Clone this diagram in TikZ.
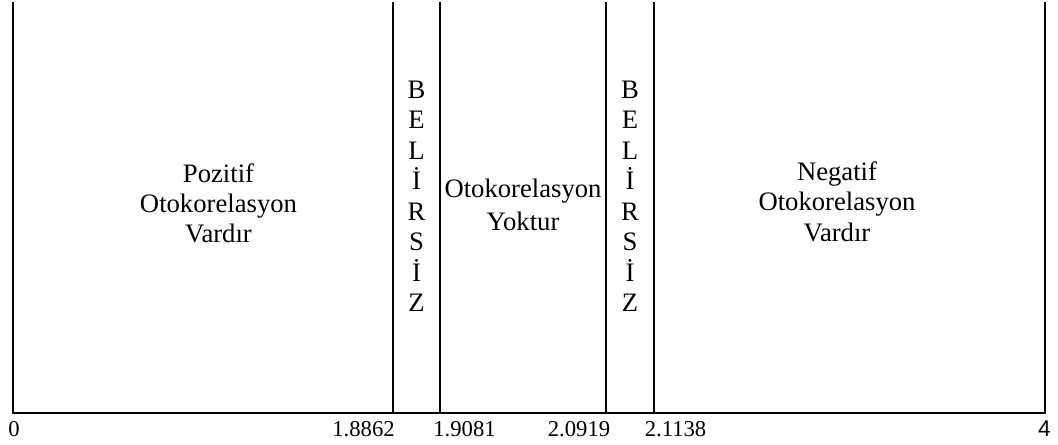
\documentclass[tikz,border=0pt]{standalone}
\usepackage{fontspec}
\setmainfont{Liberation Serif}
\newfontfamily\arialfont{Liberation Sans}
\begin{document}
\begin{tikzpicture}[x=0.75pt,y=-0.75pt,
  frame/.style={line width=1.4pt,line cap=rect},
  lbl/.style={anchor=base,inner sep=0pt,font=\fontsize{20}{22}\selectfont},
  num/.style={anchor=base,inner sep=0pt,font=\fontsize{17}{20}\selectfont}]
\useasboundingbox (0,0) rectangle (1058,445);
% frame corners
\coordinate (tl) at (12.7,3);
\coordinate (bl) at (12.7,412.7);
\coordinate (tr) at (1045,3);
\coordinate (br) at (1045,412.7);
\coordinate (a1) at (392.7,3); \coordinate (a2) at (392.7,412.7);
\coordinate (b1) at (440.2,3); \coordinate (b2) at (440.2,412.7);
\coordinate (c1) at (606,3);   \coordinate (c2) at (606,412.7);
\coordinate (d1) at (654.2,3); \coordinate (d2) at (654.2,412.7);
\draw[frame] (tl) -- (bl) -- (br) -- (tr);
\draw[frame] (a1) -- (a2);
\draw[frame] (b1) -- (b2);
\draw[frame] (c1) -- (c2);
\draw[frame] (d1) -- (d2);
% left region
\node[lbl] (p1) at (218.5,182.3) {Pozitif};
\node[lbl] (p2) at (218.5,212.8) {Otokorelasyon};
\node[lbl] (p3) at (218.5,242.5) {Vardır};
% middle region
\node[lbl] (m1) at (523,198) {Otokorelasyon};
\node[lbl] (m2) at (523,230.5) {Yoktur};
% right region
\node[lbl] (n1) at (837,180.5) {Negatif};
\node[lbl] (n2) at (837,211) {Otokorelasyon};
\node[lbl] (n3) at (837,241.5) {Vardır};
% BELIRSIZ columns
\foreach \ch [count=\i from 0] in {B,E,L,İ,R,S,İ,Z} {
  \node[lbl] (u\i) at (416.6,98.3+30.5*\i) {\ch};
  \node[lbl] (v\i) at (630.1,98.3+30.5*\i) {\ch};
}
% axis numbers
\node[num] (z0) at (14,436.5) {0};
\node[num] (z1) at (363.5,436.5) {1.8862};
\node[num] (z2) at (464.5,436.5) {1.9081};
\node[num] (z3) at (579,436.5) {2.0919};
\node[num] (z4) at (675.5,436.5) {2.1138};
\node[num,font=\arialfont\fontsize{17}{20}\selectfont] (z5) at (1044.5,436.5) {4};
\end{tikzpicture}
\end{document}
